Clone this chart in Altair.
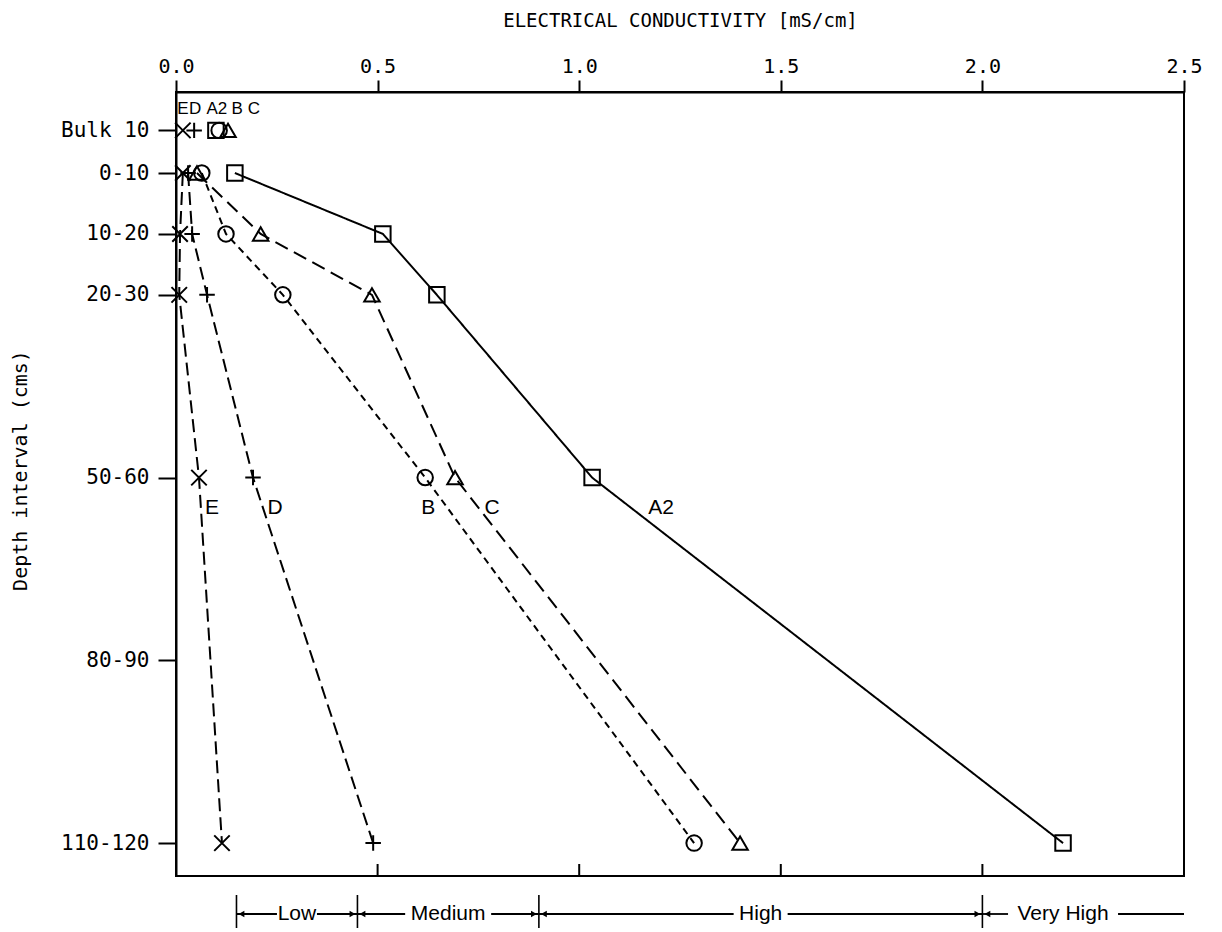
import altair as alt
import pandas as pd

# ---- data -------------------------------------------------------------
series = ["A2", "B", "C", "D", "E"]

# depth rows (cm, interval midpoints; the bulk sample sits above the profile)
depth_labels = ["Bulk 10", "0-10", "10-20", "20-30", "50-60", "80-90", "110-120"]
depth_ticks = [-2, 5, 15, 25, 55, 85, 115]

# sampled rows: Bulk 10, 0-10, 10-20, 20-30, 50-60, 110-120
sample_depths = [-2, 5, 15, 25, 55, 115]
ec_a2 = [0.099, 0.146, 0.513, 0.647, 1.032, 2.200]
ec_b = [0.107, 0.064, 0.124, 0.265, 0.618, 1.285]
ec_c = [0.129, 0.052, 0.210, 0.486, 0.692, 1.399]
ec_d = [0.045, 0.030, 0.040, 0.077, 0.191, 0.489]
ec_e = [0.017, 0.017, 0.010, 0.008, 0.057, 0.114]

x_ticks = [0.0, 0.5, 1.0, 1.5, 2.0, 2.5]
bottom_ticks = [0.5, 1.0, 1.5, 2.0]

# salinity classes along the conductivity axis
class_names = ["Low", "Medium", "High", "Very High"]
class_bounds = [0.15, 0.45, 0.90, 2.00, 2.50]
class_label_at = [0.30, 0.675, 1.45, 2.20]

# ---- tables -----------------------------------------------------------
values = {"A2": ec_a2, "B": ec_b, "C": ec_c, "D": ec_d, "E": ec_e}
rows = []
for s in series:
    for d, v in zip(sample_depths, values[s]):
        rows.append({"series": s, "depth": d, "ec": v})
df = pd.DataFrame(rows)

classes = pd.DataFrame({
    "name": class_names,
    "lo": class_bounds[:-1],
    "hi": class_bounds[1:],
    "mid": class_label_at,
})

# ---- styling ----------------------------------------------------------
AX_FONT = "DejaVu Sans Mono"
TXT_FONT = "Liberation Sans"
W, H = 1008, 784

x_scale = alt.Scale(domain=[0, 2.5], nice=False, zero=False)
y_scale = alt.Scale(domain=[-8.3, 120.4], reverse=True, nice=False, zero=False)

label_expr = ""
for v, lab in zip(depth_ticks, depth_labels):
    label_expr += f"datum.value == {v} ? '{lab}' : "
label_expr += "''"

shape_scale = alt.Scale(
    domain=series,
    range=[
        "square",
        "circle",
        "triangle-up",
        "M-1,0L1,0M0,-1L0,1",
        "M-1,-1L1,1M-1,1L1,-1",
    ],
)
dash_scale = alt.Scale(
    domain=series,
    range=[[1, 0], [7, 5], [14, 7], [13, 6], [13, 6]],
)

base = alt.Chart(df)

# profile lines (bulk sample not connected)
lines = base.transform_filter("datum.depth >= 0").mark_line(
    color="black", strokeWidth=2
).encode(
    x=alt.X(
        "ec:Q",
        scale=x_scale,
        axis=alt.Axis(
            orient="top",
            values=x_ticks,
            format=".1f",
            tickSize=12,
            labelPadding=4,
            labelFlush=False,
            grid=False,
            title="ELECTRICAL CONDUCTIVITY [mS/cm]",
            titleFont=AX_FONT,
            titleFontSize=19,
            titleFontWeight="normal",
            titleY=-72,
            titleBaseline="middle",
        ),
    ),
    y=alt.Y(
        "depth:Q",
        scale=y_scale,
        axis=alt.Axis(
            values=depth_ticks,
            labelExpr=label_expr,
            tickSize=18,
            labelPadding=9,
            labelFontSize=21,
            grid=False,
            title="Depth interval (cms)",
            titleFont=AX_FONT,
            titleFontSize=20,
            titleFontWeight="normal",
            titleX=-156,
            titleY=378,
            titleBaseline="middle",
        ),
    ),
    detail="series:N",
    order="depth:Q",
    strokeDash=alt.StrokeDash("series:N", scale=dash_scale, legend=None),
)

points = base.mark_point(
    filled=False, color="black", strokeWidth=2, size=240, opacity=1
).encode(
    x="ec:Q",
    y="depth:Q",
    shape=alt.Shape("series:N", scale=shape_scale, legend=None),
)

layers = [lines, points]

# series names beside the 50-60 markers and above the bulk markers
curve_dx = {"A2": 69, "B": 3, "C": 37, "D": 22, "E": 13}
key_dx = {"A2": 1, "B": 18, "C": 26, "D": 1, "E": 0}
for s in series:
    layers.append(
        base.transform_filter(f"datum.series == '{s}' && datum.depth == 55")
        .mark_text(font=TXT_FONT, fontSize=21, color="black", dx=curve_dx[s], dy=30)
        .encode(x="ec:Q", y="depth:Q", text="series:N")
    )
    layers.append(
        base.transform_filter(f"datum.series == '{s}' && datum.depth == -2")
        .mark_text(font=TXT_FONT, fontSize=17, color="black", dx=key_dx[s], dy=-21)
        .encode(x="ec:Q", y="depth:Q", text="series:N")
    )

# inward ticks on the bottom frame
layers.append(
    alt.Chart(pd.DataFrame({"ec": bottom_ticks}))
    .mark_rule(color="black", strokeWidth=2)
    .encode(x="ec:Q", y=alt.value(H), y2=alt.value(H - 12))
)

# class brackets below the plot
cls = alt.Chart(classes)
layers.append(
    cls.mark_rule(color="black", strokeWidth=1.6).encode(
        x="lo:Q", y=alt.value(803), y2=alt.value(836)
    )
)
gap = {"Low": 20, "Medium": 43, "High": 27, "Very High": 55}
for name in class_names:
    one = cls.transform_filter(f"datum.name == '{name}'")
    g = gap[name]
    layers.append(
        one.mark_rule(color="black", strokeWidth=1.8, x2Offset=-g).encode(
            x="lo:Q", x2="mid:Q", y=alt.value(822)
        )
    )
    layers.append(
        one.mark_rule(color="black", strokeWidth=1.8, xOffset=g).encode(
            x="mid:Q", x2="hi:Q", y=alt.value(822)
        )
    )
layers.append(
    cls.mark_text(font=TXT_FONT, fontSize=21, color="black", baseline="middle").encode(
        x="mid:Q", y=alt.value(822), text="name:N"
    )
)
layers.append(
    cls.mark_point(shape="triangle-left", filled=True, color="black", size=45, xOffset=5, opacity=1).encode(
        x="lo:Q", y=alt.value(822)
    )
)
layers.append(
    cls.transform_filter("datum.hi < 2.5")
    .mark_point(shape="triangle-right", filled=True, color="black", size=45, xOffset=-5, opacity=1)
    .encode(x="hi:Q", y=alt.value(822))
)

chart = (
    alt.layer(*layers)
    .properties(
        width=W,
        height=H,
        autosize=alt.AutoSizeParams(type="none"),
        padding={"left": 176, "top": 92, "right": 38, "bottom": 56},
        background="white",
    )
    .configure_view(stroke="black", strokeWidth=2)
    .configure_axis(
        labelFont=AX_FONT,
        labelFontSize=20,
        labelColor="black",
        domainColor="black",
        domainWidth=2,
        tickColor="black",
        tickWidth=2,
        titleColor="black",
    )
)

chart.save("out.html", embed_options={"renderer": "svg", "actions": False})
